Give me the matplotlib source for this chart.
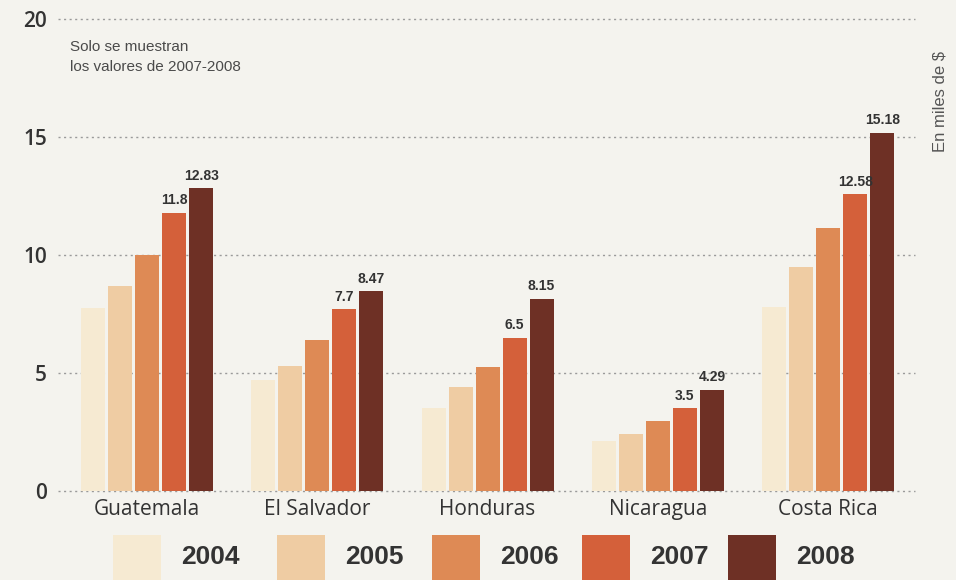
import matplotlib
matplotlib.use("Agg")
import matplotlib.pyplot as plt
from matplotlib.patches import Rectangle
import numpy as np

# Data (miles de $)
countries = ["Guatemala", "El Salvador", "Honduras", "Nicaragua", "Costa Rica"]
years = ["2004", "2005", "2006", "2007", "2008"]
v2004 = [7.75, 4.7, 3.5, 2.1, 7.8]
v2005 = [8.7, 5.3, 4.4, 2.4, 9.5]
v2006 = [10.0, 6.4, 5.25, 2.95, 11.15]
v2007 = [11.8, 7.7, 6.5, 3.5, 12.58]
v2008 = [12.83, 8.47, 8.15, 4.29, 15.18]
series = [v2004, v2005, v2006, v2007, v2008]
labeled_years = ["2007", "2008"]
yticks = [0, 5, 10, 15, 20]

colors = ["#f6ead2", "#efcca3", "#de8a55", "#d4603a", "#6e3025"]
bg = "#f4f3ee"
txt = "#333333"
narrow = ["Liberation Sans", "DejaVu Sans"]

fig = plt.figure(figsize=(9.56, 5.8), dpi=100, facecolor=bg)
ax = fig.add_axes([0.0607, 0.1534, 0.8964, 0.8138])
ax.set_facecolor(bg)

x = np.arange(len(countries))
step = 0.1586
width = 0.14

# dotted gridlines
for t in yticks:
    ax.axhline(t, color="#9a9a9a", lw=1, ls=(0, (1.5, 2.5)), zorder=0, clip_on=False)

for i, (yr, vals) in enumerate(zip(years, series)):
    pos = x + (i - 2) * step
    bars = ax.bar(pos, vals, width, color=colors[i], zorder=2)
    if yr in labeled_years:
        for b, v in zip(bars, vals):
            ax.annotate(f"{v:g}", (b.get_x() + b.get_width() / 2, v),
                        xytext=(0, 4), textcoords="offset points",
                        ha="center", va="bottom", fontsize=10,
                        fontweight="bold", color=txt, family=narrow)

ax.set_xlim(-0.523, 4.51)
ax.set_ylim(0, 20)
ax.set_yticks(yticks)
ax.set_yticklabels([str(t) for t in yticks], fontsize=15, color=txt,
                   family=["Open Sans", "DejaVu Sans"], fontweight="semibold")
ax.set_xticks(x)
ax.set_xticklabels(countries, fontsize=15, color=txt, family=["Open Sans", "DejaVu Sans"])
ax.tick_params(axis="y", length=0, pad=8)
ax.tick_params(axis="x", length=0, pad=6)
for s in ax.spines.values():
    s.set_visible(False)

# notes
fig.text(70 / 956, 1 - 57 / 580, "Solo se muestran\nlos valores de 2007-2008",
         fontsize=11, color="#4a4a4a", va="center", ha="left",
         linespacing=1.6, family=narrow)
fig.text(940 / 956, 1 - 102 / 580, "En miles de $", rotation=90,
         fontsize=12, color="#555555", va="center", ha="center", family=narrow)

# legend drawn as big swatches at the bottom
legend_x = [113, 277, 432, 582, 728]
for lx, yr, c in zip(legend_x, years, colors):
    fig.add_artist(Rectangle((lx / 956, 0), 48 / 956, 45 / 580,
                             transform=fig.transFigure, color=c, lw=0))
    fig.text((lx + 68) / 956, 1 - 557 / 580, yr, fontsize=19, color="#333333",
             va="center", ha="left", family=narrow, fontweight="bold")

fig.savefig("out.png", dpi=100, facecolor=bg)
